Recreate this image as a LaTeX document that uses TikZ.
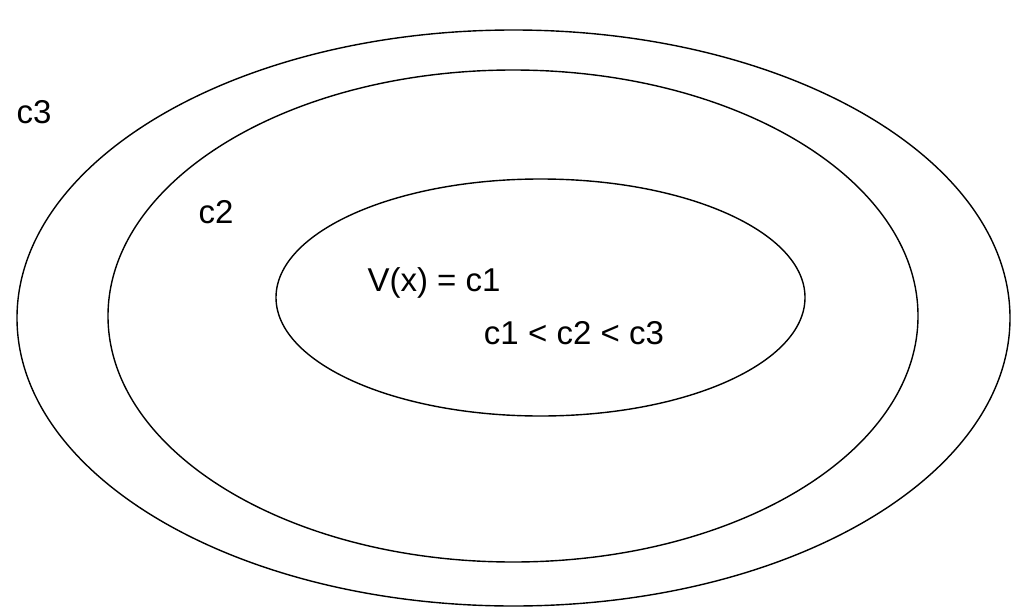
\documentclass[tikz,border=0pt]{standalone}
\usepackage{fontspec}
\setmainfont{Liberation Sans}
\usetikzlibrary{shapes.geometric}
\newcommand{\lessgap}{\hspace{0.28em}<\hspace{0.28em}}
\tikzstyle{levelset}=[draw, ellipse, line width=1.4pt, inner sep=0, outer sep=0]
\tikzstyle{levellabel}=[inner sep=0, font=\fontsize{33}{40}\selectfont]
\begin{document}
\begin{tikzpicture}[x=1pt, y=-1pt]
        \useasboundingbox (0,0) rectangle (1011,610);
        \node[levelset, minimum width=993pt, minimum height=576pt] (C3) at (513.5, 318) {};
        \node[levelset, minimum width=810pt, minimum height=492pt] (C2) at (513, 316) {};
        \node[levelset, minimum width=529pt, minimum height=237pt] (C1) at (540.5, 297.5) {};
        \node[levellabel] (c3lab) at (34, 112) {c3};
        \node[levellabel] (c2lab) at (216, 212) {c2};
        \node[levellabel] (c1lab) at (434, 283) {V(x) = c1};
        \node[levellabel] (order) at (574, 333) {c1\lessgap c2\lessgap c3};
    \end{tikzpicture}
\end{document}
